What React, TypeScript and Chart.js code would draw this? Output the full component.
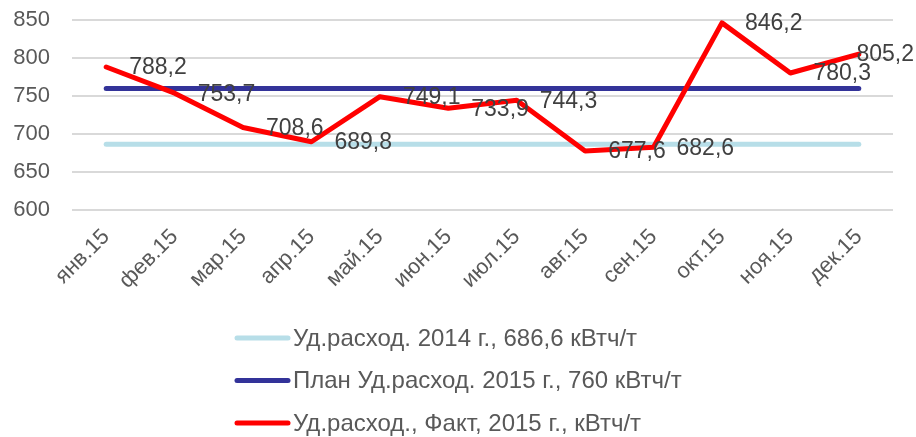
import React, { useEffect, useRef } from 'react';
import { Chart, registerables } from 'chart.js';

Chart.register(...registerables);

const categories = ['янв.15', 'фев.15', 'мар.15', 'апр.15', 'май.15', 'июн.15', 'июл.15', 'авг.15', 'сен.15', 'окт.15', 'ноя.15', 'дек.15'];
const base2014 = [686.6, 686.6, 686.6, 686.6, 686.6, 686.6, 686.6, 686.6, 686.6, 686.6, 686.6, 686.6];
const plan2015 = [760, 760, 760, 760, 760, 760, 760, 760, 760, 760, 760, 760];
const fact2015 = [788.2, 753.7, 708.6, 689.8, 749.1, 733.9, 744.3, 677.6, 682.6, 846.2, 780.3, 805.2];
const seriesNames = [
  'Уд.расход. 2014 г., 686,6 кВтч/т',
  'План Уд.расход. 2015 г., 760 кВтч/т',
  'Уд.расход., Факт, 2015 г., кВтч/т',
];
const seriesColors = ['#B7DEE8', '#333399', '#FF0000'];
const yTicks = [600, 650, 700, 750, 800, 850];

const FONT = "'Liberation Sans', Arial, sans-serif";

const fmt = (v: number) => v.toFixed(1).replace('.', ',');

const dataLabelPlugin = {
  id: 'factLabels',
  afterDatasetsDraw(chart: any) {
    const ctx = chart.ctx;
    const idx = 2;
    const meta = chart.getDatasetMeta(idx);
    const data = chart.data.datasets[idx].data as number[];
    ctx.save();
    ctx.font = `23px ${FONT}`;
    ctx.fillStyle = '#404040';
    ctx.textAlign = 'left';
    ctx.textBaseline = 'middle';
    meta.data.forEach((pt: any, i: number) => {
      const txt = fmt(data[i]);
      const w = ctx.measureText(txt).width;
      let x = pt.x + 23;
      if (x + w > chart.width - 2) x = chart.width - 2 - w;
      ctx.fillText(txt, x, pt.y + 1);
    });
    ctx.restore();
  },
};

const legendPlugin = {
  id: 'vertLegend',
  afterDraw(chart: any) {
    const ctx = chart.ctx;
    ctx.save();
    ctx.font = `24px ${FONT}`;
    ctx.textAlign = 'left';
    ctx.textBaseline = 'middle';
    seriesNames.forEach((name, i) => {
      const y = 338 + i * 42.5;
      ctx.strokeStyle = seriesColors[i];
      ctx.lineWidth = 5;
      ctx.lineCap = 'round';
      ctx.beginPath();
      ctx.moveTo(237, y);
      ctx.lineTo(288, y);
      ctx.stroke();
      ctx.fillStyle = '#595959';
      ctx.fillText(name, 293, y + 1);
    });
    ctx.restore();
  },
};

export default function App() {
  const ref = useRef<HTMLCanvasElement | null>(null);
  useEffect(() => {
    if (!ref.current) return;
    const lineDs = (i: number, data: number[], order: number) => ({
      label: seriesNames[i],
      data,
      borderColor: seriesColors[i],
      backgroundColor: seriesColors[i],
      borderWidth: 5,
      pointRadius: 0,
      tension: 0,
      borderCapStyle: 'round',
      borderJoinStyle: 'round',
      clip: false,
      order,
    });
    const chart = new Chart(ref.current, {
      type: 'line',
      data: {
        labels: categories,
        datasets: [lineDs(0, base2014, 2), lineDs(1, plan2015, 1), lineDs(2, fact2015, 0)] as any,
      },
      options: {
        animation: false,
        responsive: true,
        maintainAspectRatio: false,
        layout: { padding: { top: 20, right: 23, left: 0, bottom: 0 } },
        plugins: { legend: { display: false }, tooltip: { enabled: false } },
        scales: {
          x: {
            offset: true,
            grid: { display: false },
            border: { display: false },
            ticks: {
              autoSkip: false,
              maxRotation: 45,
              minRotation: 45,
              color: '#595959',
              font: { family: FONT, size: 22 },
              padding: 6,
            },
            afterFit: (s: any) => { s.height = 227; },
          },
          y: {
            min: 600,
            max: 850,
            afterBuildTicks: (s: any) => { s.ticks = yTicks.map((v) => ({ value: v })); },
            grid: { color: '#D9D9D9', lineWidth: 2, drawTicks: false },
            border: { display: false },
            ticks: {
              color: '#595959',
              font: { family: FONT, size: 22 },
              padding: 22,
            },
            afterFit: (s: any) => { s.width = 72; s.paddingTop = 0; s.paddingBottom = 0; },
          },
        },
      },
      plugins: [dataLabelPlugin, legendPlugin],
    } as any);
    return () => chart.destroy();
  }, []);
  return (
    <div style={{ position: 'absolute', left: 0, top: 0, width: 916, height: 437, background: '#fff' }}>
      <canvas ref={ref} />
    </div>
  );
}
